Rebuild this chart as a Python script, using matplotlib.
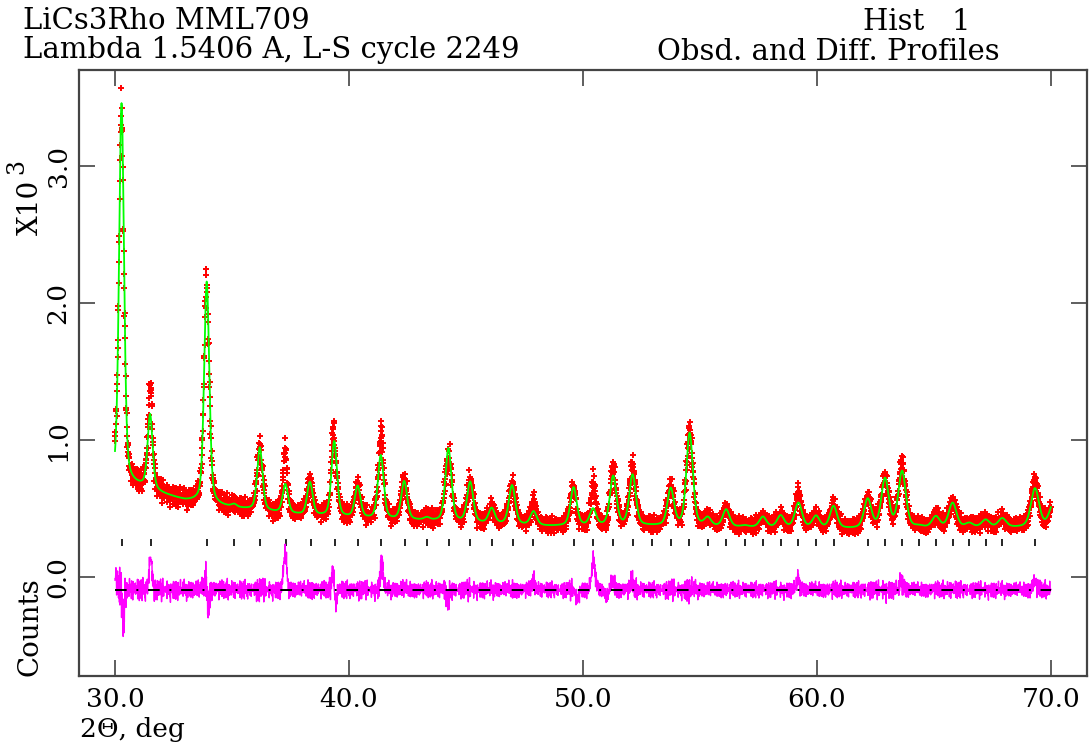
import matplotlib
matplotlib.use("Agg")
import matplotlib.pyplot as plt
import numpy as np

# reflection positions (2theta, deg) for the tick row
refl_pos = [30.30, 31.53, 33.95, 35.09, 36.21, 37.29, 38.36, 39.40, 40.40, 41.39,
            42.38, 43.33, 44.27, 45.19, 46.10, 46.99, 47.88, 49.60, 50.45, 51.29,
            52.12, 52.94, 53.75, 54.55, 55.33, 56.12, 56.92, 57.69, 58.45, 59.21,
            59.96, 60.71, 62.17, 62.91, 63.64, 64.37, 65.08, 65.80, 66.51, 67.21,
            67.92, 69.32]

# fitted peaks: position, height above background (x10^3 counts), fwhm
peak_pos = [30.28, 31.50, 33.92, 35.09, 36.19, 37.28, 38.33, 39.37, 40.37, 41.36,
            42.36, 43.33, 44.25, 45.18, 46.10, 46.97, 47.89, 49.60, 50.43, 51.29,
            52.12, 53.75, 54.56, 55.33, 56.12, 56.92, 57.69, 58.45, 59.21, 59.96,
            60.71, 62.17, 62.91, 63.64, 64.37, 65.08, 65.80, 66.51, 67.21, 67.92,
            69.32, 70.10]
peak_height = [2.78, 0.54, 1.62, 0.02, 0.46, 0.21, 0.24, 0.55, 0.23, 0.465,
               0.28, 0.02, 0.535, 0.295, 0.11, 0.285, 0.10, 0.28, 0.12, 0.36,
               0.37, 0.27, 0.68, 0.06, 0.125, 0.01, 0.075, 0.085, 0.18, 0.085,
               0.16, 0.21, 0.355, 0.41, 0.01, 0.08, 0.18, 0.03, 0.055, 0.065,
               0.28, 0.16]
peak_fwhm = [0.25, 0.25, 0.26, 0.26, 0.27, 0.27, 0.28, 0.28, 0.29, 0.29,
             0.30, 0.30, 0.31, 0.31, 0.31, 0.32, 0.32, 0.32, 0.32, 0.33,
             0.33, 0.33, 0.33, 0.34, 0.34, 0.34, 0.35, 0.35, 0.36, 0.36,
             0.36, 0.37, 0.37, 0.38, 0.38, 0.38, 0.39, 0.39, 0.40, 0.40,
             0.41, 0.41]
eta = 0.4

# background points (2theta, x10^3 counts)
bkg_tth = [30.0, 30.8, 31.3, 32.0, 33.0, 33.5, 34.5, 35.5, 36.8, 38.0, 39.0,
           40.0, 41.0, 43.0, 45.5, 48.5, 52.9, 55.0, 58.0, 61.5, 64.4, 68.5, 70.0]
bkg_val = [0.68, 0.665, 0.65, 0.605, 0.555, 0.545, 0.515, 0.495, 0.47, 0.45, 0.44,
           0.43, 0.42, 0.41, 0.39, 0.37, 0.37, 0.365, 0.36, 0.35, 0.355, 0.36, 0.365]

# where the observed profile departs from the fit: position, amount, sigma
misfit_pos = [30.03, 30.36, 31.52, 33.86, 33.99, 37.27, 39.31, 39.43, 41.40, 44.22,
              47.88, 49.75, 50.45, 51.00, 51.28, 52.10, 59.20, 63.62, 69.30]
misfit_amp = [0.10, -0.22, 0.24, 0.09, -0.11, 0.26, 0.15, -0.10, 0.19, -0.08,
              0.06, -0.07, 0.20, -0.06, 0.07, 0.07, 0.07, 0.07, 0.06]
misfit_sig = [0.05, 0.045, 0.06, 0.04, 0.045, 0.07, 0.045, 0.045, 0.06, 0.06,
              0.07, 0.06, 0.08, 0.06, 0.06, 0.06, 0.07, 0.06, 0.07]

# counting scatter, in units of esd
scatter_a = [0.3, -1.1, 0.8, -0.2, 1.4, -0.7, 0.1, -1.5, 0.9, 0.4, -0.5, 1.2,
             -0.9, 0.0, 0.6, -1.3, 1.0, -0.3, 0.5, -0.8, 1.6, -0.4, 0.2]
scatter_b = [-0.6, 0.9, -1.2, 0.4, 0.1, 1.3, -0.2, -0.9, 0.7, -1.4, 0.5, 1.0,
             -0.1, -0.7, 1.1, 0.2, -1.0, 0.6, -0.3]
scatter_scale = 1.8

diff_offset = -0.095
tth_step = 0.01


def pseudo_voigt(x, pos, fwhm):
    d2 = (x - pos) ** 2 / fwhm ** 2
    return (1 - eta) * np.exp(-4 * np.log(2) * d2) + eta / (1 + 4 * d2)


tth = np.arange(30.0, 70.0 + tth_step / 2, tth_step)
calc = np.interp(tth, bkg_tth, bkg_val)
for p, h, w in zip(peak_pos, peak_height, peak_fwhm):
    calc += h * pseudo_voigt(tth, p, w)

obs = calc.copy()
for p, a, s in zip(misfit_pos, misfit_amp, misfit_sig):
    obs += a * np.exp(-0.5 * ((tth - p) / s) ** 2)
esd = np.sqrt(obs * 1000.0) / 1000.0
scatter = (np.resize(scatter_a, tth.size) + np.resize(scatter_b, tth.size)) / np.sqrt(2)
obs = obs + scatter_scale * scatter * esd
diff = obs - calc

plt.rcParams['font.family'] = ['DejaVu Serif']

fig = plt.figure(figsize=(10.89, 7.49), dpi=100)
ax = fig.add_axes([0.0725, 0.0975, 0.9256, 0.8091])

ax.plot(tth, obs, '+', color='#ff0000', ms=5, mew=1.4, zorder=2)
ax.plot(tth, calc, color='#00ff00', lw=1.3, zorder=3)
ax.vlines(refl_pos, 0.225, 0.278, color='black', lw=1.2, zorder=2)
ax.plot(tth, diff + diff_offset, color='#ff00ff', lw=1.0, zorder=3)
ax.plot([tth[0], tth[-1]], [diff_offset, diff_offset], color='black', lw=1.4,
        dashes=(6, 5, 1, 5), zorder=4)

ax.set_xlim(28.46, 71.54)
ax.set_ylim(-0.7226, 3.70)

ax.set_xticks([30, 40, 50, 60, 70])
ax.set_xticklabels(['30.0', '40.0', '50.0', '60.0', '70.0'])
ax.set_yticks([0, 1, 2, 3])
ax.set_yticklabels(['0.0', '1.0', '2.0', '3.0'], rotation=90, va='center')
ax.tick_params(direction='in', length=11.5, width=1.1, color='#333333',
               top=True, right=True, labelsize=19)
ax.tick_params(axis='x', pad=8)
ax.tick_params(axis='y', pad=6)
for sp in ax.spines.values():
    sp.set_linewidth(1.6)
    sp.set_color('#444444')

W, H = 1089.0, 749.0


def put(x, y, s, **kw):
    fig.text(x / W, 1 - y / H, s, **kw)


put(23, 21, 'LiCs3Rho MML709', fontsize=21, ha='left', va='center')
put(23, 50, 'Lambda 1.5406 A, L-S cycle 2249', fontsize=21, ha='left', va='center')
put(863, 22, 'Hist   1', fontsize=21, ha='left', va='center')
put(1000, 52, 'Obsd. and Diff. Profiles', fontsize=21, ha='right', va='center')
put(30, 207, 'X10', fontsize=20, rotation=90, ha='center', va='center')
put(17, 167, '3', fontsize=17, rotation=90, ha='center', va='center')
put(30, 627, 'Counts', fontsize=20, rotation=90, ha='center', va='center')
put(80, 730, '2\u0398, deg', fontsize=19, ha='left', va='center')

fig.savefig('out.png', dpi=100)
